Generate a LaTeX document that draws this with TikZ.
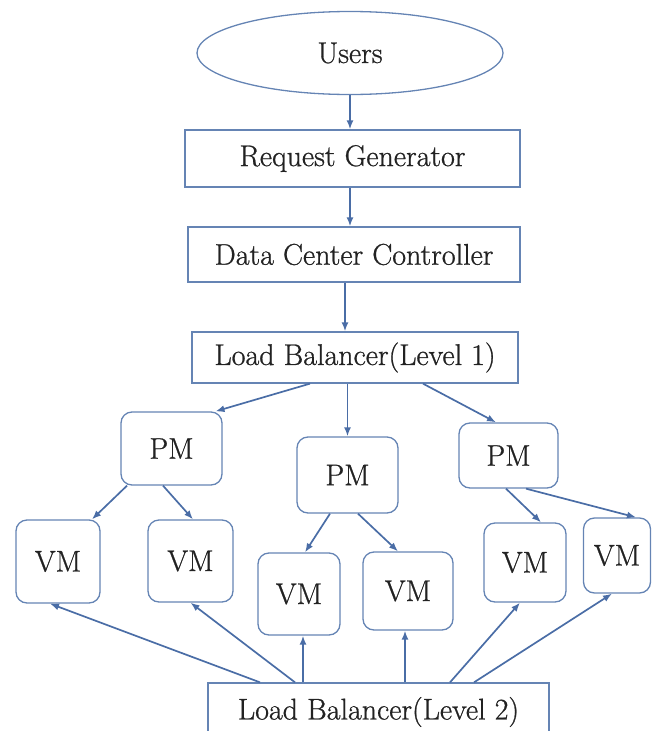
\documentclass[tikz,border=0pt]{standalone}
\usepackage{fontspec}
\setmainfont{Latin Modern Roman}[FakeBold=0.8]
\usetikzlibrary{arrows.meta,shapes.geometric}
\definecolor{lineblue}{HTML}{4A6DA6}
\definecolor{boxblue}{HTML}{6584B4}
\definecolor{txt}{HTML}{222222}
\tikzset{
  base/.style={draw=boxblue, line width=1.3pt, text=txt, inner sep=0pt,
    font=\fontsize{30}{36}\selectfont},
  rbox/.style={base, rectangle},
  mbox/.style={base, rectangle, rounded corners=11pt},
  oval/.style={base, ellipse},
  conn/.style={draw=lineblue, line width=1.7pt, -{Latex[length=9pt,width=7pt]}},
}
\begin{document}
\begin{tikzpicture}[x=1pt,y=-1pt]
\useasboundingbox (0,0) rectangle (656,731);
\clip (0,0) rectangle (656,731);
\node[oval, minimum width=306pt, minimum height=83pt] (users) at (350,53) {Users};
\node[rbox, minimum width=335pt, minimum height=57pt] (rg) at (352.5,158.5) {Request Generator};
\node[rbox, minimum width=332pt, minimum height=55pt] (dcc) at (354,254.5) {Data Center Controller};
\node[rbox, minimum width=326pt, minimum height=51pt] (lb1) at (355,357.5) {Load Balancer(Level 1)};
\node[mbox, minimum width=101pt, minimum height=73pt] (pm1) at (171.5,448.5) {PM};
\node[mbox, minimum width=101pt, minimum height=76pt] (pm2) at (347.5,475) {PM};
\node[mbox, minimum width=99pt, minimum height=65pt] (pm3) at (508.5,455.5) {PM};
\node[mbox, minimum width=84pt, minimum height=83pt] (vm1) at (58,561.5) {VM};
\node[mbox, minimum width=85pt, minimum height=82pt] (vm2) at (190.5,561) {VM};
\node[mbox, minimum width=82pt, minimum height=82pt] (vm3) at (299,594) {VM};
\node[mbox, minimum width=90pt, minimum height=78pt] (vm4) at (408,591) {VM};
\node[mbox, minimum width=82pt, minimum height=79pt] (vm5) at (525,562.5) {VM};
\node[mbox, minimum width=67pt, minimum height=75pt] (vm6) at (617,555.5) {VM};
\node[rbox, minimum width=341pt, minimum height=58pt] (lb2) at (378.5,712) {Load Balancer(Level 2)};
% top chain
\draw[conn] (users.south) -- (users.south |- rg.north);
\draw[conn] ([xshift=-2.5pt]rg.south) -- ([xshift=-2.5pt]rg.south |- dcc.north);
\draw[conn] ([xshift=-9pt]dcc.south) -- ([xshift=-9pt]dcc.south |- lb1.north);
% LB1 to PMs
\draw[conn] ([xshift=-45pt]lb1.south) -- ([xshift=44pt]pm1.north);
\draw[conn] (pm2.north |- lb1.south) -- (pm2.north);
\draw[conn] ([xshift=68pt]lb1.south) -- ([xshift=-12.5pt]pm3.north);
% PMs to VMs
\draw[conn] ([xshift=-44.5pt]pm1.south) -- ([xshift=34pt]vm1.north);
\draw[conn] ([xshift=-8.5pt]pm1.south) -- ([xshift=2.5pt]vm2.north);
\draw[conn] ([xshift=-17.5pt]pm2.south) -- ([xshift=6pt]vm3.north);
\draw[conn] ([xshift=10.5pt]pm2.south) -- ([xshift=-10pt]vm4.north);
\draw[conn] ([xshift=-2.5pt]pm3.south) -- ([xshift=16pt]vm5.north);
\draw[conn] ([xshift=17.5pt]pm3.south) -- ([xshift=19pt]vm6.north);
% LB2 to VMs
\draw[conn] ([xshift=-118.5pt]lb2.north) -- ([xshift=-8pt]vm1.south);
\draw[conn] ([xshift=-83.5pt]lb2.north) -- (vm2.south);
\draw[conn] ([xshift=4pt]vm3.south |- lb2.north) -- ([xshift=4pt]vm3.south);
\draw[conn] ([xshift=-3pt]vm4.south |- lb2.north) -- ([xshift=-3pt]vm4.south);
\draw[conn] ([xshift=71.5pt]lb2.north) -- ([xshift=-5pt]vm5.south);
\draw[conn] ([xshift=95.5pt]lb2.north) -- ([xshift=-5pt]vm6.south);
\end{tikzpicture}
\end{document}
